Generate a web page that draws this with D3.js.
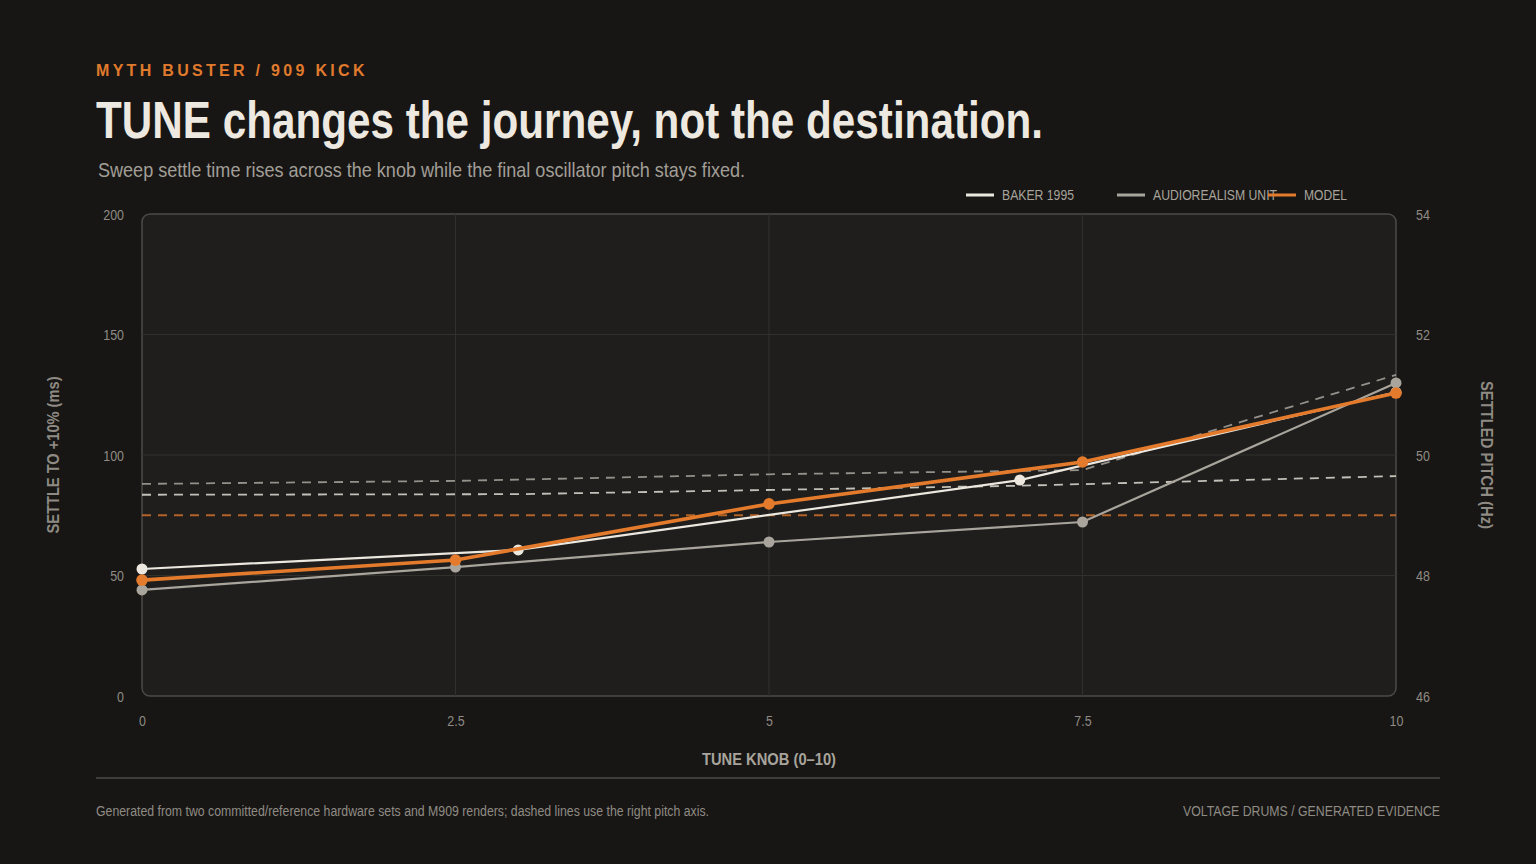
<!DOCTYPE html>
<html>
<head>
<meta charset="utf-8">
<script src="https://cdn.jsdelivr.net/npm/d3@7"></script>
<style>
  html, body { margin: 0; padding: 0; background: #171614; }
  svg { display: block; font-family: "Liberation Sans Narrow", "Arial Narrow", "Liberation Sans", sans-serif; }
</style>
</head>
<body>
<svg id="chart" width="1536" height="864"></svg>
<script>
// settle time (ms) per tune knob position
var bakerKnob = [0, 3, 7, 10];
var bakerSettle = [52.7, 60.6, 89.6, 126];
var bakerPitch = [49.34, 49.35, 49.49, 49.65];

var unitKnob = [0, 2.5, 5, 7.5, 10];
var unitSettle = [44, 53.5, 63.9, 72.2, 129.9];
var unitPitch = [49.52, 49.57, 49.68, 49.75, 51.33];

var modelKnob = [0, 2.5, 5, 7.5, 10];
var modelSettle = [48.1, 56.4, 79.7, 97.1, 125.7];
var modelPitch = [49.0, 49.0, 49.0, 49.0, 49.0];

var xTicks = [0, 2.5, 5, 7.5, 10];
var leftTicks = [0, 50, 100, 150, 200];
var rightTicks = [46, 48, 50, 52, 54];
var legendNames = ["BAKER 1995", "AUDIOREALISM UNIT", "MODEL"];

var colors = { baker: "#ece8df", unit: "#a9a59d", model: "#e47b2c" };

var svg = d3.select("#chart");
var pL = 142, pR = 1396, pT = 214, pB = 696;

var x = d3.scaleLinear().domain([0, 10]).range([pL, pR]);
var y = d3.scaleLinear().domain([0, 200]).range([pB, pT]);
var y2 = d3.scaleLinear().domain([46, 54]).range([pB, pT]);

// no narrow font installed, so squeeze text to the reference widths
function squeeze(sel, w) {
    sel.each(function () {
        var len = w || this.getComputedTextLength() * 0.83;
        d3.select(this).attr("textLength", len).attr("lengthAdjust", "spacingAndGlyphs");
    });
    return sel;
}

// header
svg.append("text").attr("x", 96).attr("y", 76)
    .attr("fill", "#e07a2c").attr("font-size", 16).attr("font-weight", "bold")
    .attr("letter-spacing", "3.3px")
    .style("font-family", "'Liberation Sans', sans-serif")
    .text("MYTH BUSTER / 909 KICK");
squeeze(svg.append("text").attr("x", 96).attr("y", 138)
    .attr("fill", "#ede9e1").attr("font-size", 52).attr("font-weight", "bold")
    .text("TUNE changes the journey, not the destination."), 947);
squeeze(svg.append("text").attr("x", 98).attr("y", 177)
    .attr("fill", "#a29e97").attr("font-size", 21)
    .text("Sweep settle time rises across the knob while the final oscillator pitch stays fixed."), 647);

// plot panel
svg.append("rect").attr("x", pL).attr("y", pT)
    .attr("width", pR - pL).attr("height", pB - pT)
    .attr("rx", 8).attr("fill", "#1f1e1c").attr("stroke", "#4d4a46").attr("stroke-width", 1.5);

svg.append("g").selectAll("line").data(leftTicks.slice(1, -1)).enter().append("line")
    .attr("x1", pL).attr("x2", pR)
    .attr("y1", function (d) { return y(d); }).attr("y2", function (d) { return y(d); })
    .attr("stroke", "#31302d").attr("stroke-width", 1);
svg.append("g").selectAll("line").data(xTicks.slice(1, -1)).enter().append("line")
    .attr("y1", pT).attr("y2", pB)
    .attr("x1", function (d) { return x(d); }).attr("x2", function (d) { return x(d); })
    .attr("stroke", "#31302d").attr("stroke-width", 1);

// axes (labels only)
var axL = svg.append("g").attr("transform", "translate(" + (pL - 18) + ",0)")
    .call(d3.axisLeft(y).tickValues(leftTicks).tickSize(0).tickPadding(0));
var axR = svg.append("g").attr("transform", "translate(" + (pR + 20) + ",0)")
    .call(d3.axisRight(y2).tickValues(rightTicks).tickSize(0).tickPadding(0));
var axB = svg.append("g").attr("transform", "translate(0," + (pB + 19) + ")")
    .call(d3.axisBottom(x).tickValues(xTicks).tickSize(0).tickPadding(0)
        .tickFormat(function (d) { return d; }));
[axL, axR, axB].forEach(function (a) {
    a.select(".domain").remove();
    a.selectAll("text").attr("fill", "#8f8b84").attr("font-size", 15);
    squeeze(a.selectAll("text"));
});
axL.selectAll("text").attr("dy", "0.35em");
axR.selectAll("text").attr("dy", "0.35em");
axB.selectAll("text").attr("dy", "0.75em");

squeeze(svg.append("text").attr("transform", "translate(59,455) rotate(-90)")
    .attr("text-anchor", "middle").attr("fill", "#8f8b84")
    .attr("font-size", 16).attr("font-weight", "bold")
    .text("SETTLE TO +10% (ms)"), 157);
squeeze(svg.append("text").attr("transform", "translate(1481,455) rotate(90)")
    .attr("text-anchor", "middle").attr("fill", "#8f8b84")
    .attr("font-size", 16).attr("font-weight", "bold")
    .text("SETTLED PITCH (Hz)"), 148);
squeeze(svg.append("text").attr("x", 769).attr("y", 765)
    .attr("text-anchor", "middle").attr("fill", "#a8a49c")
    .attr("font-size", 17).attr("font-weight", "bold")
    .text("TUNE KNOB (0–10)"), 134);

// dashed pitch lines (right axis)
function pitchLine(knob, vals, color, op) {
    var pts = knob.map(function (k, i) { return [k, vals[i]]; });
    svg.append("path").datum(pts)
        .attr("d", d3.line().x(function (d) { return x(d[0]); }).y(function (d) { return y2(d[1]); }))
        .attr("fill", "none").attr("stroke", color).attr("stroke-width", 1.8)
        .attr("stroke-dasharray", "9,7").attr("opacity", op);
}
pitchLine(unitKnob, unitPitch, colors.unit, 0.85);
pitchLine(bakerKnob, bakerPitch, colors.baker, 0.8);
pitchLine(modelKnob, modelPitch, colors.model, 0.75);

// settle lines (left axis)
function settleLine(knob, vals, color, w, r) {
    var pts = knob.map(function (k, i) { return [k, vals[i]]; });
    svg.append("path").datum(pts)
        .attr("d", d3.line().x(function (d) { return x(d[0]); }).y(function (d) { return y(d[1]); }))
        .attr("fill", "none").attr("stroke", color).attr("stroke-width", w);
    svg.append("g").selectAll("circle").data(pts).enter().append("circle")
        .attr("cx", function (d) { return x(d[0]); })
        .attr("cy", function (d) { return y(d[1]); })
        .attr("r", r).attr("fill", color);
}
settleLine(bakerKnob, bakerSettle, colors.baker, 2.2, 5.5);
settleLine(unitKnob, unitSettle, colors.unit, 2.2, 5.5);
settleLine(modelKnob, modelSettle, colors.model, 3.6, 5.8);

// legend
var legendColors = [colors.baker, colors.unit, colors.model];
var legendWidths = [72, 124, 43];
var lg = svg.append("g").selectAll("g").data(legendNames).enter().append("g")
    .attr("transform", function (d, i) { return "translate(" + (966 + i * 151) + ",195)"; });
lg.append("text").attr("x", 36).attr("dy", "0.35em")
    .attr("fill", "#a8a49c").attr("font-size", 14)
    .attr("textLength", function (d, i) { return legendWidths[i]; })
    .attr("lengthAdjust", "spacingAndGlyphs")
    .text(function (d) { return d; });
lg.append("line").attr("x1", 0).attr("x2", 28)
    .attr("stroke", function (d, i) { return legendColors[i]; })
    .attr("stroke-width", 3);

// footer
svg.append("line").attr("x1", 96).attr("x2", 1440).attr("y1", 778).attr("y2", 778)
    .attr("stroke", "#3e3c39").attr("stroke-width", 2);
squeeze(svg.append("text").attr("x", 96).attr("y", 816)
    .attr("fill", "#8f8b84").attr("font-size", 14)
    .text("Generated from two committed/reference hardware sets and M909 renders; dashed lines use the right pitch axis."), 613);
squeeze(svg.append("text").attr("x", 1440).attr("y", 816).attr("text-anchor", "end")
    .attr("fill", "#8f8b84").attr("font-size", 14)
    .text("VOLTAGE DRUMS / GENERATED EVIDENCE"), 257);
</script>
</body>
</html>
